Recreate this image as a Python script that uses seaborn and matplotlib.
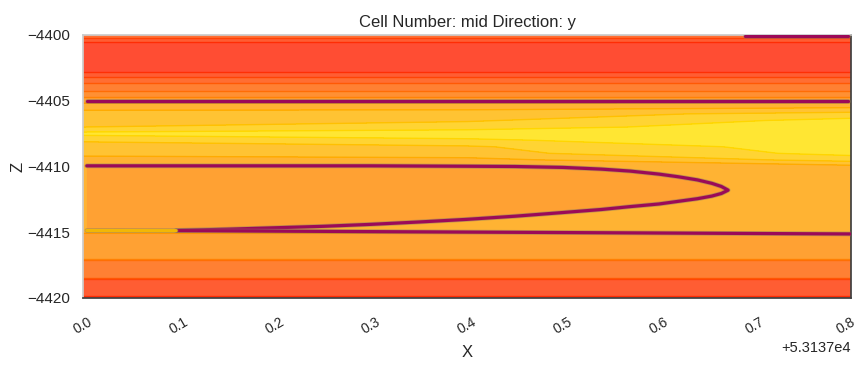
import numpy as np
import pandas as pd
import matplotlib
matplotlib.use("Agg")
import matplotlib.pyplot as plt
import matplotlib.patheffects as pe
from matplotlib.transforms import ScaledTranslation
import seaborn as sns

# --- data ---
x_origin = 53137.0
x_cols = [0.0, 0.4, 0.8]
z_rows = [-4400.0, -4400.4, -4400.8, -4401.5, -4402.5, -4403.0, -4403.3, -4403.7,
          -4404.2, -4404.6, -4405.0, -4405.5, -4406.0, -4406.5, -4407.0, -4407.5,
          -4408.0, -4408.5, -4409.0, -4409.5, -4410.0, -4412.5, -4415.0, -4415.3,
          -4417.0, -4417.1, -4418.4, -4418.6, -4419.7, -4420.0]
field_left = [0.30, 0.20, 0.12, 0.10, 0.12, 0.19, 0.27, 0.35, 0.41, 0.47,
              0.55, 0.64, 0.70, 0.72, 0.75, 0.86, 0.76, 0.72, 0.70, 0.62,
              0.60, 0.60, 0.60, 0.54, 0.52, 0.38, 0.37, 0.21, 0.19, 0.15]
field_mid = [0.30, 0.20, 0.12, 0.10, 0.12, 0.19, 0.27, 0.35, 0.41, 0.47,
             0.55, 0.64, 0.71, 0.74, 0.80, 0.88, 0.82, 0.74, 0.72, 0.64,
             0.61, 0.61, 0.60, 0.54, 0.52, 0.38, 0.37, 0.21, 0.19, 0.15]
field_right = [0.30, 0.20, 0.12, 0.10, 0.12, 0.19, 0.27, 0.35, 0.41, 0.47,
               0.55, 0.66, 0.78, 0.86, 0.88, 0.90, 0.90, 0.88, 0.86, 0.78,
               0.64, 0.62, 0.60, 0.54, 0.52, 0.38, 0.37, 0.21, 0.19, 0.15]

# contact lines
top_x = [0.69, 0.797]
top_z = [-4400.08, -4400.08]
c4405_x = [0.004, 0.797]
c4405_z = [-4405.02, -4405.02]
lens_x = [0.004, 0.1, 0.2, 0.3, 0.4, 0.45, 0.5, 0.54, 0.57, 0.6, 0.62, 0.64, 0.655, 0.665, 0.672,
          0.665, 0.655, 0.64, 0.62, 0.6, 0.57, 0.54, 0.5, 0.45, 0.4, 0.35, 0.3, 0.25, 0.2, 0.15, 0.097]
lens_z = [-4409.95, -4409.95, -4409.95, -4409.95, -4409.98, -4410.0, -4410.07, -4410.2, -4410.35,
          -4410.58, -4410.78, -4411.02, -4411.28, -4411.52, -4411.8,
          -4412.05, -4412.25, -4412.45, -4412.65, -4412.85, -4413.05, -4413.27, -4413.5, -4413.78,
          -4414.02, -4414.22, -4414.4, -4414.55, -4414.66, -4414.77, -4414.86]
c4415_x = [0.097, 0.8]
c4415_z = [-4414.88, -4415.13]
c4415_left_x = [0.004, 0.097]
c4415_left_z = [-4414.87, -4414.88]

x_ticks = [0.0, 0.1, 0.2, 0.3, 0.4, 0.5, 0.6, 0.7, 0.8]
z_ticks = [-4400, -4405, -4410, -4415, -4420]

# --- plot ---
sns.set_theme(style="white", font="Liberation Sans")
plt.rcParams["font.family"] = ["Liberation Sans", "DejaVu Sans"]

fig, ax = plt.subplots(figsize=(8.61, 3.66), dpi=100)
fig.subplots_adjust(left=0.0964, right=0.9884, top=0.9044, bottom=0.1858)

xx = x_origin + np.array(x_cols)
field = np.column_stack([field_left, field_mid, field_right])
levels = np.linspace(0, 1, 13)
cmap = plt.get_cmap("autumn")

ax.contourf(xx, z_rows, field, levels=levels, cmap=cmap, alpha=0.8)
ax.contour(xx, z_rows, field, levels=levels, cmap=cmap, linewidths=1.0, alpha=0.9)

# lens body (same band as lower orange)
lens_col = 0.8 * np.array(cmap(6.5 / 12)[:3]) + 0.2
poly_x = x_origin + np.array(lens_x + [0.004])
poly_z = lens_z + [-4414.87]
ax.fill(poly_x, poly_z, color=lens_col, lw=0, zorder=2)

purple = "#9b0a59"
halo = [pe.Stroke(linewidth=3.4, foreground="#8c8060", alpha=0.55), pe.Normal()]
lines = [(top_x, top_z, purple), (c4405_x, c4405_z, purple), (lens_x, lens_z, purple),
         (c4415_x, c4415_z, purple), (c4415_left_x, c4415_left_z, "#f2b705")]
for lx, lz, col in lines:
    df = pd.DataFrame({"x": x_origin + np.array(lx), "z": lz})
    sns.lineplot(data=df, x="x", y="z", sort=False, estimator=None, color=col,
                 lw=2.3, ax=ax, zorder=4, path_effects=halo)

ax.set_xlim(x_origin, x_origin + 0.8)
ax.set_ylim(-4420, -4400)
ax.set_xticks(x_origin + np.array(x_ticks))
ax.set_yticks(z_ticks)
ax.tick_params(axis="x", labelrotation=30, labelsize=10, pad=6)
ax.tick_params(axis="y", labelsize=11)
ax.xaxis.get_offset_text().set_fontsize(10.5)
ax.set_xlabel("X", fontsize=12, labelpad=6)
ax.set_ylabel("Z", fontsize=12, labelpad=1)
ax.set_title("Cell Number: mid Direction: y", fontsize=12)

# keep the last tick label inside the canvas
last = ax.get_xticklabels()[-1]
last.set_transform(last.get_transform() + ScaledTranslation(-4 / 72, 0, fig.dpi_scale_trans))

for side in ["top", "left"]:
    ax.spines[side].set_color("0.8")
for side in ["bottom", "right"]:
    ax.spines[side].set_color("0.25")

plt.savefig("out.png", dpi=100)
